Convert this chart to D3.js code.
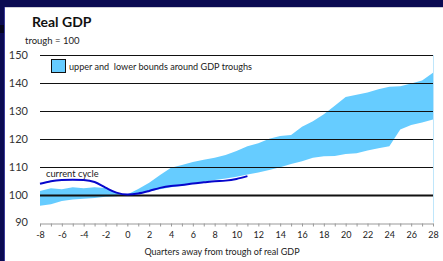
<!DOCTYPE html>
<html>
<head>
<meta charset="utf-8">
<script src="https://cdn.jsdelivr.net/npm/d3@7"></script>
<style>
  html, body { margin: 0; padding: 0; background: #ffffff; }
  svg { display: block; }
</style>
</head>
<body>
<div id="chart"></div>
<script>
(function () {
  "use strict";

  // quarters away from trough
  const bandQuarters = d3.range(-8, 29);
  const upperBound = [
    101.3, 102.3, 101.9, 102.6, 102.3, 102.6, 102.4, 100.6, 100.0,
    102.0, 104.2, 107.0, 109.6, 110.6, 111.7, 112.5, 113.2, 114.2,
    115.6, 117.3, 118.4, 120.0, 121.0, 121.3, 124.3, 126.3, 128.8,
    131.8, 135.0, 135.8, 136.6, 137.7, 138.6, 138.8, 139.8, 140.9, 143.6
  ];
  const lowerBound = [
    96.0, 96.5, 97.7, 98.2, 98.5, 98.8, 99.2, 99.4, 100.0,
    100.5, 101.2, 101.9, 102.6, 103.2, 103.9, 104.6, 105.2, 105.8,
    106.4, 107.2, 107.9, 108.8, 109.8, 111.0, 111.9, 113.2, 113.7,
    113.8, 114.5, 114.8, 115.8, 116.6, 117.3, 123.3, 124.9, 125.8, 126.9
  ];

  const cycleQuarters = d3.range(-8, 12);
  const currentCycle = [
    103.9, 104.8, 105.2, 105.3, 105.2, 104.5, 102.5, 100.7, 100.0,
    100.4, 101.3, 102.4, 103.1, 103.4, 104.0, 104.4, 104.8, 105.0, 105.6, 106.6
  ];

  const yTicks = [90, 100, 110, 120, 130, 140, 150];
  const xTicks = d3.range(-8, 29);

  const width = 443;
  const height = 261;
  const font = "Lato, 'Open Sans', sans-serif";

  const svg = d3.select("#chart").append("svg").attr("width", width).attr("height", height);

  // slide frame
  svg.append("rect").attr("x", 0).attr("y", 0).attr("width", width).attr("height", 7).attr("fill", "#0b0b52");
  svg.append("rect").attr("x", 0).attr("y", 0).attr("width", 5).attr("height", height).attr("fill", "#0b0b52");
  svg.append("rect").attr("x", 0).attr("y", 25).attr("width", 5).attr("height", 8).attr("fill", "#05051e");
  svg.append("line").attr("x1", 4.5).attr("x2", 4.5).attr("y1", 7).attr("y2", height).attr("stroke", "#3a3a9a").attr("stroke-width", 1);
  svg.append("line").attr("x1", 5).attr("x2", width).attr("y1", 7.5).attr("y2", 7.5).attr("stroke", "#cfcfd8").attr("stroke-width", 1);

  const x = d3.scaleLinear().domain([-8, 28]).range([40, 433]);
  const y = d3.scaleLinear().domain([90, 150]).range([222.5, 55]);

  // band
  const area = d3.area()
    .x(function (d) { return x(d.q); })
    .y0(function (d) { return y(d.lo); })
    .y1(function (d) { return y(d.hi); });
  const bandData = bandQuarters.map(function (q, i) {
    return { q: q, lo: lowerBound[i], hi: upperBound[i] };
  });
  svg.append("path").datum(bandData).attr("d", area).attr("fill", "#66ccff");

  // right plot edge
  svg.append("line")
    .attr("x1", x(28) + 0.5).attr("x2", x(28) + 0.5)
    .attr("y1", y(150)).attr("y2", y(90))
    .attr("stroke", "#bfe6fb").attr("stroke-width", 1);

  // gridlines
  svg.append("g")
    .selectAll("line")
    .data(yTicks.filter(function (t) { return t > 90; }))
    .enter()
    .append("line")
    .attr("x1", x(-8)).attr("x2", x(28))
    .attr("y1", function (d) { return Math.round(y(d)) + 0.5; })
    .attr("y2", function (d) { return Math.round(y(d)) + 0.5; })
    .attr("stroke", "#111")
    .attr("stroke-width", function (d) { return d === 100 ? 2 : 1; });

  // y labels
  svg.append("g")
    .selectAll("text")
    .data(yTicks)
    .enter()
    .append("text")
    .attr("x", 28)
    .attr("y", function (d) { return y(d); })
    .attr("dy", "0.36em")
    .attr("text-anchor", "end")
    .attr("font-family", font)
    .attr("font-size", 11)
    .attr("fill", "#333")
    .text(function (d) { return d; });

  // x axis
  svg.append("g")
    .attr("transform", "translate(0," + (Math.round(y(90)) + 0.5) + ")")
    .call(d3.axisBottom(x).tickValues(xTicks).tickSize(3).tickSizeOuter(0).tickPadding(5)
      .tickFormat(function (d) { return d % 2 === 0 ? d : ""; }))
    .call(function (g) {
      g.selectAll("text").attr("fill", "#222").attr("font-size", 9).attr("font-family", font);
      g.selectAll("path,line").attr("stroke", "#999");
    });

  // current cycle
  const line = d3.line()
    .x(function (d, i) { return x(cycleQuarters[i]); })
    .y(function (d) { return y(d); })
    .curve(d3.curveMonotoneX);
  svg.append("path").datum(currentCycle).attr("d", line)
    .attr("fill", "none").attr("stroke", "#0606cc").attr("stroke-width", 2);

  // texts
  svg.append("text").attr("x", 32).attr("y", 27).attr("font-family", font)
    .attr("font-size", 14).attr("font-weight", "bold").attr("fill", "#111").text("Real GDP");
  svg.append("text").attr("x", 25).attr("y", 44).attr("font-family", font)
    .attr("font-size", 9.5).attr("fill", "#222").text("trough = 100");
  svg.append("text").attr("x", 46).attr("y", 177).attr("font-family", font)
    .attr("font-size", 9.3).attr("fill", "#222").text("current cycle");
  svg.append("text").attr("x", 222).attr("y", 255).attr("text-anchor", "middle").attr("font-family", font)
    .attr("font-size", 9).attr("fill", "#222").text("Quarters away from trough of real GDP");

  // legend
  svg.append("rect").attr("x", 51.5).attr("y", 59.5).attr("width", 14).attr("height", 13)
    .attr("fill", "#66ccff").attr("stroke", "#111").attr("stroke-width", 1);
  svg.append("text").attr("x", 69).attr("y", 69.5).attr("font-family", font)
    .attr("font-size", 9.1).attr("fill", "#222").attr("xml:space", "preserve")
    .text("upper and  lower bounds around GDP troughs");
})();
</script>
</body>
</html>
